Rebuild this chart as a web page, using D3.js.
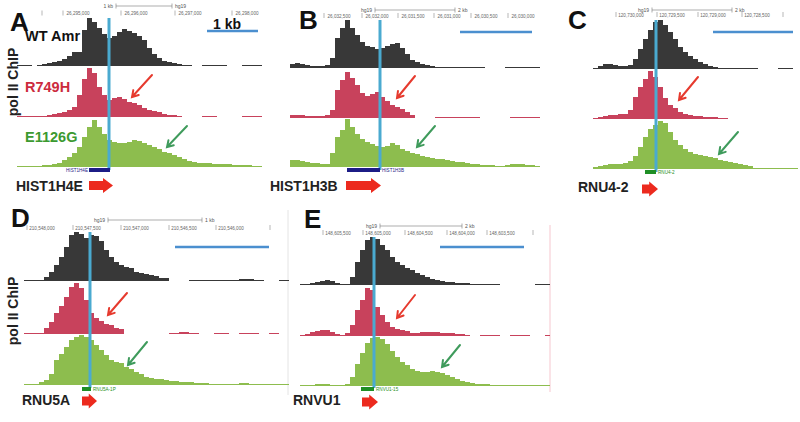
<!DOCTYPE html>
<html><head><meta charset="utf-8">
<script src="https://cdn.jsdelivr.net/npm/d3@7"></script>
<style>body{margin:0;background:#fff}svg{display:block}</style>
</head><body>
<svg id="c" width="800" height="422"></svg>
<script>
// ---------- DATA ----------
const trackNames = ["WT Amr", "R749H", "E1126G"];
const panelLetters = ["A", "B", "C", "D", "E"];
const geneNames = ["HIST1H4E", "HIST1H3B", "RNU4-2", "RNU5A", "RNVU1"];
const geneTags = ["HIST1H4E", "HIST1H3B", "RNU4-2", "RNU5A-1P", "RNVU1-15"];

// pol II ChIP signal per bin (A: 49 bins, B: 50, C: 41, D: 53, E: 50)
const aBlack = [1,1,1,null,1.5, 2,3,4,5,7, 10,14,14,36,48, 44,38,32,28,30, 34,37,35,33,30, 26,18,12,8,5, 4,3,2,1,1, null,null,1,1,1, 1,1,null,null,null, 1,1,1,1];
const aRed   = [0.5,0.5,0.5,0.5,1, 1.5,2,3,4,5, 7,10,22,38,49, 44,30,22,17,19, 20,18,15,14,12, 9,7,6,5,3, 2,2,1,null,null, null,null,1.5,1.5,1.5, null,null,null,null,null, 1.5,1.5,1.5,1.5];
const aGreen = [0.5,1,1,1,1.5, 2,2.5,3,4,7, 10,14,20,30,40, 47,40,33,27,25, 24,24,25,27,26, 24,22,20,18,15, 14,12,10,8,6, 5,4,4,4,3.5, 3,3,3,2.5,2.5, 2,2,1.5,1];

const bBlack = [4,5,4,3,2, 2,2,3,10,30, 40,48,40,33,26, 22,21,19,20,22, 24,25,20,14,8, 6,4,3,2,1.5, 1,1,1,0.5,0.5, 0.5,0.5,0.5,0.5,null, null,null,null,0.5,1, 1.5,1.5,1,0.5,0.5];
const bRed   = [3,3,3,2.5,2.5, 2,2,3,8,28, 38,46,40,33,25, 22,24,26,21,17, 13,11,9,6,3, null,null,null,null,0.5, 1,1,1,1,1, 1,1,0.5,null,null, null,null,null,null,1, 1,1,1,1,1];
const bGreen = [7,7,6,5,4, 4,3,3,14,30, 37,48,40,33,28, 25,23,21,20,21, 24,22,18,16,14, 13,11,10,9,8, 8,7,6,5,5, 4,3,3,2,2, 2,1.5,1.5,2,3, 3,3,2,2,1];

const cBlack = [1,3,5,5,4, 3,3,4,10,20, 30,39,47,49,44, 37,30,22,17,13, 10,7,5,3,2, 1.5,1,1,1,1, 1,1,0.5,null,null, null,null,1,1,1, null];
const cRed   = [1,2,3,4,4, 5,5,9,22,32, 40,48,42,32,21, 14,11,7,5,4, 3,3,2,2,2, 1.5,1,null,null,null, null,null,null,null,null, null,null,null,null,null, null];
const cGreen = [2,3,4,5,5, 5,6,8,13,22, 32,40,44,48,46, 37,29,24,20,17, 15,14,13,12,11, 9,8,7,6,5, 4,3,1.5,0.5,0.3, 0.3,0.3,0.3,0.3,0.3, 0.3];

const dBlack = [0.5,0.5,1,1,4, 9,16,24,34,46, 49,47,43,46,45, 40,31,24,19,16, 14,13,9,8,7, 6,5,3,3,null, null,null,null,0.5,1, 1,1,1,1,1, 1,1,1.5,2,2, 2,1.5,1,null,null, null,1,1];
const dRed   = [1,1,1.5,1.5,6, 12,21,28,37,47, 51,46,34,21,16, 13,10,9,6,5, null,null,null,null,null, null,null,null,null,0.5, 1.5,2.5,2.5,1.5,0.5, null,null,null,1,1, 1,null,null,1,1, 1,1,null,null,1, 1,null,null];
const dGreen = [0.5,1,1,3,5, 11,25,31,38,45, 48,50,48,45,40, 35,30,25,23,22, 18,16,13,11,8, 7,6,6,5,4, 4,3.5,3,3,2.5, 2,2,1.5,1.5,1.5, 1,1,1.5,2,2, 1,0.5,0.5,0.5,0.5, 0.5,0.5,0.5];

const eBlack = [1,1.5,2,3,4, 5,4,2,1,1, 8,23,35,45,48, 46,40,35,28,23, 20,17,15,12,10, 8,6,5,4,3, 3,2,2,2,1.5, 1.5,1,1,0.5,0.5, null,null,null,null,null, null,null,0.5,0.5,0.5];
const eRed   = [1,2,4,5,6, 6,4,2,1,3, 11,26,36,48,46, 29,21,14,9,7, 6,5,3,3,4, 4,4,4,3.5,3, 3,2.5,2,1.5,null, null,0.5,0.5,0.5,0.5, null,null,0.5,0.5,0.5, 0.5,null,null,null,1];
const eGreen = [1,1,1.5,2,2, 2,1.5,1,1.5,2, 9,22,33,43,48, 49,47,42,35,29, 24,21,17,15,14, 14,15,14,13,11, 9,7,5,4,3, 2.5,2,2,1.5,1.5, 1.5,1,1,1,1, 0.5,0.5,0.5,0.5,0.5];

// browser ruler labels
const aTicks = ["26,295,000", "26,296,000", "26,297,000", "26,298,000"];
const bTicks = ["26,032,500", "26,032,000", "26,031,500", "26,031,000", "26,030,500", "26,030,000"];
const cTicks = ["120,730,000", "120,729,500", "120,729,000", "120,728,500"];
const dTicks = ["210,548,000", "210,547,500", "210,547,000", "210,546,500", "210,546,000"];
const eTicks = ["148,605,500", "148,605,000", "148,604,500", "148,604,000", "148,603,500"];
const rulerSpans = ["1 kb", "2 kb", "2 kb", "1 kb", "2 kb"];

// ---------- LAYOUT ----------
const COL = {black: "#383838", red: "#c8425c", green: "#8dbd4e", tss: "#4aaad0", bar: "#4b8fcf",
             rArrow: "#e63a2e", gArrow: "#3f9b5c", redTxt: "#cc2b3d", greenTxt: "#3c9a30", block: "#ec2a1e"};
const FONT = "'Liberation Sans', Arial, Helvetica, sans-serif";

const panels = [
  {x0: 17, bw: 5, base: [66, 117, 167], data: [aBlack, aRed, aGreen], tss: 109, tssY: [18, 170],
   letter: [10, 31], scale: [207, 258, 31], ticks: aTicks, tickX: [78, 136, 190, 247], tickY: 13.5, edgeTicks: [42],
   ruler: {y: 6, x1: 116, x2: 172, labLeft: true}, gene: [16, 191], block: [89, 113, 185.5],
   gbar: [89, 110, 170, "#1c1c86"], arrows: [[152, 75, 132, 97], [187, 126, 167, 147]], trackLabels: true, polY: 82},
  {x0: 290, bw: 5, base: [68, 118, 167], data: [bBlack, bRed, bGreen], tss: 380, tssY: [20, 170],
   letter: [299, 29], scale: [460, 532, 32], ticks: bTicks, tickX: [339, 377, 413, 449, 486, 523], tickY: 16, edgeTicks: [],
   ruler: {y: 10, x1: 375, x2: 455}, gene: [270, 191], block: [346, 381, 185.5],
   gbar: [347, 380, 170, "#1c1c86"], arrows: [[415, 76, 397, 98], [435, 126, 417, 147]]},
  {x0: 593, bw: 5, base: [69, 119, 169], data: [cBlack, cRed, cGreen], tss: 656, tssY: [20, 172],
   letter: [568, 29], scale: [713, 793, 32], ticks: cTicks, tickX: [631, 672, 713, 757], tickY: 15, edgeTicks: [783],
   ruler: {y: 10, x1: 652, x2: 732}, gene: [578, 192], block: [642, 658, 189],
   gbar: [645, 656, 172, "#1f8f25"], arrows: [[698, 77, 679, 100], [738, 132, 719, 154]]},
  {x0: 24, bw: 5, base: [281, 334, 385], data: [dBlack, dRed, dGreen], tss: 90, tssY: [232, 388],
   letter: [11, 227], scale: [175, 269, 247], ticks: dTicks, tickX: [42, 88, 136, 184, 231], tickY: 228, edgeTicks: [270],
   ruler: {y: 220, x1: 108, x2: 202}, gene: [22, 405], block: [82, 97, 401],
   gbar: [82, 91, 389, "#1f8f25"], arrows: [[127, 293, 108, 315], [147, 342, 128, 365]], polY: 311, border: [288, 210, 395, "#e4e4e4"]},
  {x0: 300, bw: 5, base: [285, 336, 386], data: [eBlack, eRed, eGreen], tss: 374, tssY: [237, 388],
   letter: [304, 228], scale: [440, 524, 247], ticks: eTicks, tickX: [338, 378, 420, 462, 502], tickY: 233, edgeTicks: [533],
   ruler: {y: 226, x1: 380, x2: 462}, gene: [293, 405], block: [362, 378, 402],
   gbar: [361, 374, 389, "#1f8f25"], arrows: [[415, 295, 397, 318], [460, 345, 442, 367]], border: [550, 225, 392, "#f6c7cf"]}
];

const svg = d3.select("#c").attr("font-family", FONT);
const colors = [COL.black, COL.red, COL.green];

panels.forEach((p, pi) => {
  const g = svg.append("g");
  const n = p.data[0].length;
  const x = d3.scaleLinear().domain([0, n]).range([p.x0, p.x0 + p.bw * n]);

  if (p.border) {
    g.append("line").attr("x1", p.border[0]).attr("x2", p.border[0]).attr("y1", p.border[1]).attr("y2", p.border[2])
      .attr("stroke", p.border[3]).attr("stroke-width", 1);
  }

  // ruler
  const r = p.ruler;
  g.append("line").attr("x1", r.x1).attr("x2", r.x2).attr("y1", r.y).attr("y2", r.y).attr("stroke", "#777").attr("stroke-width", 0.6);
  [r.x1, r.x2].forEach(xx => g.append("line").attr("x1", xx).attr("x2", xx).attr("y1", r.y - 2.5).attr("y2", r.y + 2.5).attr("stroke", "#777").attr("stroke-width", 0.6));
  g.append("text").attr("x", r.x1 - 3).attr("y", r.y + 2).attr("text-anchor", "end").attr("font-size", 5).attr("fill", "#555")
    .text(r.labLeft ? rulerSpans[pi] : "hg19");
  g.append("text").attr("x", r.x2 + 3).attr("y", r.y + 2).attr("font-size", 5).attr("fill", "#555")
    .text(r.labLeft ? "hg19" : rulerSpans[pi]);
  p.ticks.forEach((t, i) => {
    const cx = p.tickX[i];
    g.append("text").attr("x", cx).attr("y", p.tickY + 1.5).attr("text-anchor", "middle").attr("font-size", 4.6).attr("fill", "#666").text(t);
    g.append("line").attr("x1", cx - 15).attr("x2", cx - 15).attr("y1", p.tickY - 3).attr("y2", p.tickY + 2).attr("stroke", "#888").attr("stroke-width", 0.6);
  });
  p.edgeTicks.forEach(ex => g.append("line").attr("x1", ex).attr("x2", ex).attr("y1", p.tickY - 3).attr("y2", p.tickY + 2).attr("stroke", "#888").attr("stroke-width", 0.6));

  // tracks
  p.data.forEach((vals, ti) => {
    const y = d3.scaleLinear().domain([0, 50]).range([p.base[ti], p.base[ti] - 50]);
    const bins = vals.map((v, i) => ({v, i})).filter(d => d.v != null);
    g.append("g").selectAll("rect").data(bins).join("rect")
      .attr("x", d => x(d.i)).attr("width", d => x(d.i + 1) - x(d.i))
      .attr("y", d => Math.min(y(d.v), p.base[ti] - 1))
      .attr("height", d => Math.max(1, y(0) - y(d.v)))
      .attr("fill", colors[ti]).attr("shape-rendering", "crispEdges");
  });

  // TSS line
  g.append("line").attr("x1", p.tss).attr("x2", p.tss).attr("y1", p.tssY[0]).attr("y2", p.tssY[1])
    .attr("stroke", COL.tss).attr("stroke-width", 3);

  // scale bar
  g.append("line").attr("x1", p.scale[0]).attr("x2", p.scale[1]).attr("y1", p.scale[2]).attr("y2", p.scale[2])
    .attr("stroke", COL.bar).attr("stroke-width", 2.5);

  // gene model bar + tiny tag
  const gb = p.gbar;
  g.append("rect").attr("x", gb[0]).attr("y", gb[2] - 2).attr("width", gb[1] - gb[0]).attr("height", 4).attr("fill", gb[3]);
  if (pi === 0) {
    g.append("text").attr("x", gb[0] - 1).attr("y", gb[2] + 1.7).attr("text-anchor", "end").attr("font-size", 4.6).attr("fill", gb[3]).text(geneTags[pi]);
  } else {
    g.append("text").attr("x", gb[1] + 2).attr("y", gb[2] + 1.7).attr("font-size", 4.6).attr("fill", gb[3]).text(geneTags[pi]);
  }

  // thin arrows (red then green)
  p.arrows.forEach((a, ai) => {
    const [x1, y1, x2, y2] = a;
    const ang = Math.atan2(y2 - y1, x2 - x1), L = 7, sp = 0.55;
    const h1 = [x2 - L * Math.cos(ang - sp), y2 - L * Math.sin(ang - sp)];
    const h2 = [x2 - L * Math.cos(ang + sp), y2 - L * Math.sin(ang + sp)];
    g.append("path").attr("d", `M${x1},${y1}L${x2},${y2}M${h1[0]},${h1[1]}L${x2},${y2}L${h2[0]},${h2[1]}`)
      .attr("fill", "none").attr("stroke", ai === 0 ? COL.rArrow : COL.gArrow).attr("stroke-width", 2).attr("stroke-linecap", "round");
  });

  // block arrow
  const [bx1, bx2, by] = p.block;
  const len = bx2 - bx1, head = Math.min(10, len * 0.55), bh = 4.5, hh = 7.5;
  g.append("path").attr("d", `M${bx1},${by - bh}L${bx2 - head},${by - bh}L${bx2 - head},${by - hh}L${bx2},${by}L${bx2 - head},${by + hh}L${bx2 - head},${by + bh}L${bx1},${by + bh}Z`)
    .attr("fill", COL.block);

  // gene name
  g.append("text").attr("x", p.gene[0]).attr("y", p.gene[1]).attr("font-size", 14).attr("font-weight", "bold").attr("fill", "#222").text(geneNames[pi]);

  // panel letter
  g.append("text").attr("x", p.letter[0]).attr("y", p.letter[1]).attr("font-size", 26).attr("font-weight", "bold").attr("fill", "#111").text(panelLetters[pi]);

  if (p.polY) {
    g.append("text").attr("transform", `translate(18,${p.polY}) rotate(-90)`).attr("text-anchor", "middle")
      .attr("font-size", 14).attr("font-weight", "bold").attr("fill", "#222").text("pol II ChIP");
  }
  if (p.trackLabels) {
    const tc = ["#111", COL.redTxt, COL.greenTxt], ty = [41, 92, 142];
    trackNames.forEach((t, i) => g.append("text").attr("x", 25).attr("y", ty[i]).attr("font-size", 14.5).attr("font-weight", "bold").attr("fill", tc[i]).text(t));
    g.append("text").attr("x", 213).attr("y", 29).attr("font-size", 14).attr("font-weight", "bold").attr("fill", "#111").text("1 kb");
  }
});
</script>
</body></html>
